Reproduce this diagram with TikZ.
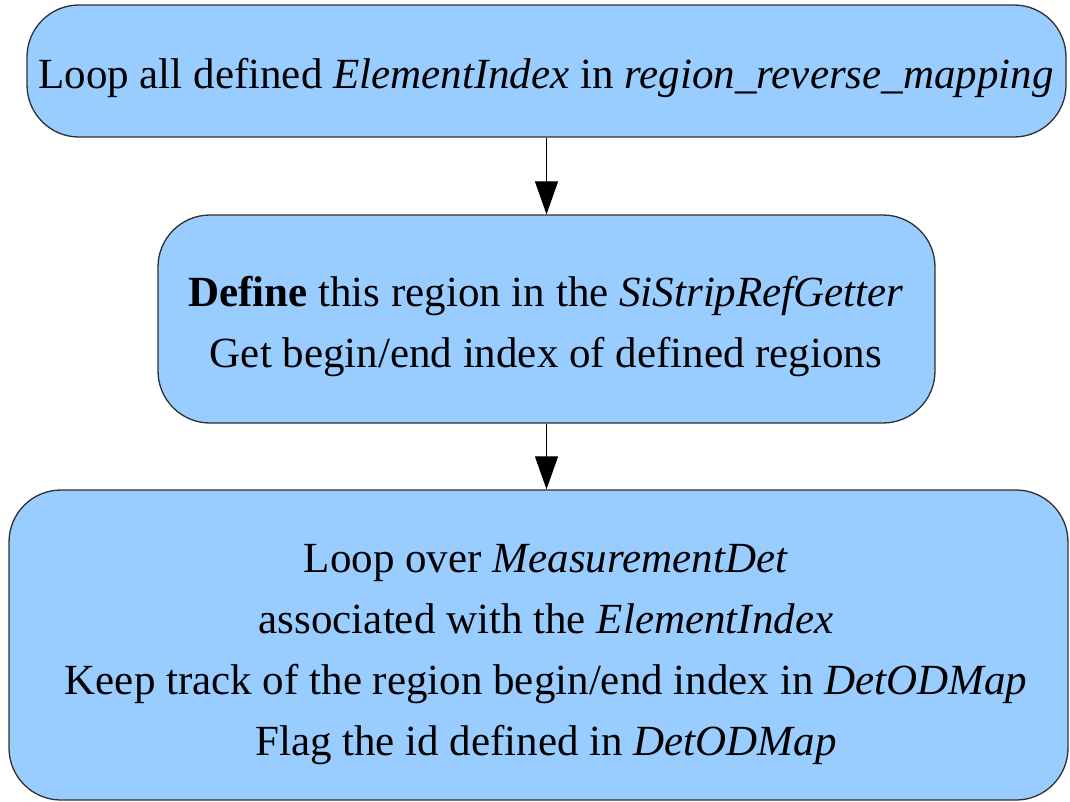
\documentclass[tikz,border=0pt]{standalone}
\usepackage{fontspec}
\setmainfont{Liberation Serif}
\usetikzlibrary{arrows.meta}
\definecolor{boxfill}{HTML}{99CCFF}
\definecolor{boxline}{HTML}{303030}
\begin{document}
\begin{tikzpicture}[x=1pt,y=-1pt,
  stage/.style={draw=boxline, line width=1.3pt, fill=boxfill,
    rounded corners=52pt, inner sep=0pt},
  txt/.style={font=\fontsize{43}{61}\selectfont, align=center,
    inner sep=0pt, anchor=base},
  flow/.style={-{Triangle[length=33pt,width=23pt]}, line width=1.1pt, draw=black}]
\useasboundingbox (0,0) rectangle (1070,801);

% process boxes
\node[stage, minimum width=1039pt, minimum height=132pt] (b1) at (546.5,71) {};
\node[stage, minimum width=777pt, minimum height=208pt] (b2) at (546.5,319) {};
\node[stage, minimum width=1059pt, minimum height=310pt] (b3) at (538.5,645) {};

% box texts (base anchor sits on the last line)
\node[txt] (t1) at (546,88) {Loop all defined \textit{ElementIndex} in \textit{region\_reverse\_mapping}};
\node[txt] (t2) at (546,367) {\textbf{Define} this region in the \textit{SiStripRefGetter}\\
  Get begin/end index of defined regions};
\node[txt] (t3) at (546,755) {Loop over \textit{MeasurementDet}\\
  associated with the \textit{ElementIndex}\\
  Keep track of the region begin/end index in \textit{DetODMap}\\
  Flag the id defined in \textit{DetODMap}};

% connectors
\draw[flow] (b1.south) -- (b2.north);
\draw[flow] (b2.south) -- (b2.south |- b3.north);
\end{tikzpicture}
\end{document}
